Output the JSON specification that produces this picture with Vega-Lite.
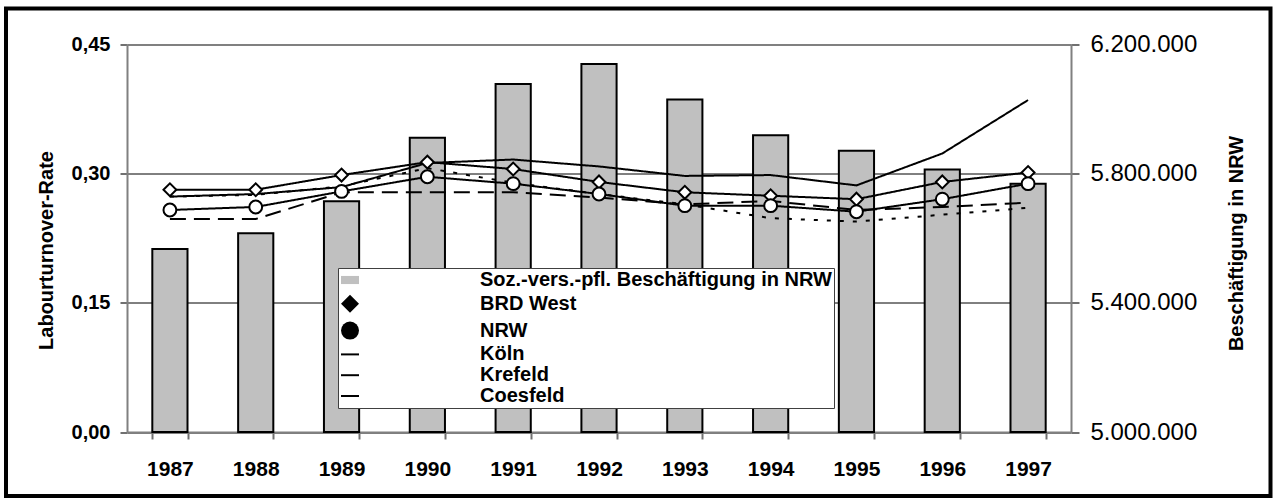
{
  "$schema": "https://vega.github.io/schema/vega-lite/v6.json",
  "width": 1264.5,
  "height": 487.5,
  "autosize": {"type": "none"},
  "padding": {"left": 6, "top": 8.5, "right": 5.5, "bottom": 3},
  "background": "white",
  "config": {
    "locale": {"number": {"decimal": ",", "thousands": ".", "grouping": [3], "currency": ["", " €"]}},
    "view": {"stroke": "black", "strokeWidth": 4, "fill": "white"},
    "font": "Liberation Sans"
  },
  "datasets": {
    "bars": [
      {"year": 1987, "employment": 5566000, "series": "Soz.-vers.-pfl. Beschäftigung in NRW"},
      {"year": 1988, "employment": 5615000, "series": "Soz.-vers.-pfl. Beschäftigung in NRW"},
      {"year": 1989, "employment": 5714000, "series": "Soz.-vers.-pfl. Beschäftigung in NRW"},
      {"year": 1990, "employment": 5910000, "series": "Soz.-vers.-pfl. Beschäftigung in NRW"},
      {"year": 1991, "employment": 6076000, "series": "Soz.-vers.-pfl. Beschäftigung in NRW"},
      {"year": 1992, "employment": 6138000, "series": "Soz.-vers.-pfl. Beschäftigung in NRW"},
      {"year": 1993, "employment": 6028000, "series": "Soz.-vers.-pfl. Beschäftigung in NRW"},
      {"year": 1994, "employment": 5918000, "series": "Soz.-vers.-pfl. Beschäftigung in NRW"},
      {"year": 1995, "employment": 5870000, "series": "Soz.-vers.-pfl. Beschäftigung in NRW"},
      {"year": 1996, "employment": 5812000, "series": "Soz.-vers.-pfl. Beschäftigung in NRW"},
      {"year": 1997, "employment": 5768000, "series": "Soz.-vers.-pfl. Beschäftigung in NRW"}
    ],
    "lines": [
      {"year": 1987, "series": "BRD West", "rate": 0.281},
      {"year": 1988, "series": "BRD West", "rate": 0.281},
      {"year": 1989, "series": "BRD West", "rate": 0.298},
      {"year": 1990, "series": "BRD West", "rate": 0.313},
      {"year": 1991, "series": "BRD West", "rate": 0.305},
      {"year": 1992, "series": "BRD West", "rate": 0.290},
      {"year": 1993, "series": "BRD West", "rate": 0.278},
      {"year": 1994, "series": "BRD West", "rate": 0.274},
      {"year": 1995, "series": "BRD West", "rate": 0.270},
      {"year": 1996, "series": "BRD West", "rate": 0.290},
      {"year": 1997, "series": "BRD West", "rate": 0.301},
      {"year": 1987, "series": "NRW", "rate": 0.2575},
      {"year": 1988, "series": "NRW", "rate": 0.261},
      {"year": 1989, "series": "NRW", "rate": 0.279},
      {"year": 1990, "series": "NRW", "rate": 0.296},
      {"year": 1991, "series": "NRW", "rate": 0.288},
      {"year": 1992, "series": "NRW", "rate": 0.276},
      {"year": 1993, "series": "NRW", "rate": 0.2625},
      {"year": 1994, "series": "NRW", "rate": 0.2625},
      {"year": 1995, "series": "NRW", "rate": 0.2555},
      {"year": 1996, "series": "NRW", "rate": 0.270},
      {"year": 1997, "series": "NRW", "rate": 0.288},
      {"year": 1987, "series": "Köln", "rate": 0.273},
      {"year": 1988, "series": "Köln", "rate": 0.276},
      {"year": 1989, "series": "Köln", "rate": 0.284},
      {"year": 1990, "series": "Köln", "rate": 0.312},
      {"year": 1991, "series": "Köln", "rate": 0.316},
      {"year": 1992, "series": "Köln", "rate": 0.308},
      {"year": 1993, "series": "Köln", "rate": 0.297},
      {"year": 1994, "series": "Köln", "rate": 0.298},
      {"year": 1995, "series": "Köln", "rate": 0.286},
      {"year": 1996, "series": "Köln", "rate": 0.323},
      {"year": 1997, "series": "Köln", "rate": 0.385},
      {"year": 1987, "series": "Krefeld", "rate": 0.247},
      {"year": 1988, "series": "Krefeld", "rate": 0.247},
      {"year": 1989, "series": "Krefeld", "rate": 0.278},
      {"year": 1990, "series": "Krefeld", "rate": 0.278},
      {"year": 1991, "series": "Krefeld", "rate": 0.278},
      {"year": 1992, "series": "Krefeld", "rate": 0.272},
      {"year": 1993, "series": "Krefeld", "rate": 0.264},
      {"year": 1994, "series": "Krefeld", "rate": 0.268},
      {"year": 1995, "series": "Krefeld", "rate": 0.2575},
      {"year": 1996, "series": "Krefeld", "rate": 0.261},
      {"year": 1997, "series": "Krefeld", "rate": 0.266},
      {"year": 1987, "series": "Coesfeld", "rate": 0.273},
      {"year": 1988, "series": "Coesfeld", "rate": 0.275},
      {"year": 1989, "series": "Coesfeld", "rate": 0.285},
      {"year": 1990, "series": "Coesfeld", "rate": 0.306},
      {"year": 1991, "series": "Coesfeld", "rate": 0.289},
      {"year": 1992, "series": "Coesfeld", "rate": 0.276},
      {"year": 1993, "series": "Coesfeld", "rate": 0.264},
      {"year": 1994, "series": "Coesfeld", "rate": 0.248},
      {"year": 1995, "series": "Coesfeld", "rate": 0.244},
      {"year": 1996, "series": "Coesfeld", "rate": 0.252},
      {"year": 1997, "series": "Coesfeld", "rate": 0.260}
    ]
  },
  "layer": [
    {
      "data": {"name": "bars"},
      "mark": {"type": "bar", "stroke": "black", "strokeWidth": 2},
      "encoding": {
        "x": {
          "field": "year", "type": "ordinal",
          "scale": {"paddingInner": 0.59, "paddingOuter": 0.295, "range": [121, 1065]},
          "axis": {
            "title": null, "labelAngle": 0, "labelFont": "Liberation Sans", "labelFontSize": 21,
            "labelFontWeight": "bold", "labelColor": "black", "labelPadding": 19,
            "tickSize": 7, "tickColor": "#707070", "tickWidth": 2, "tickBand": "extent",
            "domainColor": "#808080", "domainWidth": 2, "grid": false, "offset": -64
          }
        },
        "y": {
          "field": "employment", "type": "quantitative",
          "scale": {"domain": [5000000, 6200000], "zero": false, "nice": false, "range": [423.5, 35.5]},
          "axis": {
            "orient": "right", "offset": -199.5,
            "values": [5000000, 5400000, 5800000, 6200000], "format": ",.0f",
            "title": "Beschäftigung in NRW", "titleFont": "Liberation Sans", "titleFontSize": 20,
            "titleFontWeight": "bold", "titleColor": "black", "titleAngle": 270,
            "titleBaseline": "alphabetic", "titleX": 171, "titleY": 234.5,
            "labelFont": "Liberation Sans", "labelFontSize": 24, "labelFontWeight": "normal",
            "labelColor": "black", "labelPadding": 11, "tickSize": 8, "tickColor": "#707070",
            "tickWidth": 2, "domainColor": "#808080", "domainWidth": 2, "grid": false
          }
        },
        "y2": {"datum": 5000000},
        "fill": {
          "field": "series", "type": "nominal",
          "scale": {
            "domain": ["Soz.-vers.-pfl. Beschäftigung in NRW", "BRD West", "NRW", "Köln", "Krefeld", "Coesfeld"],
            "range": ["#c0c0c0", "black", "black", "black", "black", "black"]
          },
          "legend": {
            "title": null, "orient": "none", "legendX": 332, "legendY": 259.5,
            "padding": 2, "rowPadding": 0.8,
            "fillColor": "white", "strokeColor": "#404040",
            "symbolSize": 324, "symbolStrokeWidth": 2, "symbolStrokeColor": "black",
            "labelOffset": 120, "labelFont": "Liberation Sans", "labelFontSize": 20,
            "labelFontWeight": "bold", "labelColor": "black", "labelLimit": 600
          }
        }
      }
    },
    {
      "data": {"name": "lines"},
      "mark": {"type": "line", "color": "black", "strokeWidth": 2},
      "encoding": {
        "x": {"field": "year", "type": "ordinal"},
        "y": {
          "field": "rate", "type": "quantitative",
          "scale": {"domain": [0, 0.45], "nice": false, "zero": false, "range": [423.5, 35.5]},
          "axis": {
            "orient": "left", "offset": -121, "values": [0, 0.15, 0.3, 0.45], "format": ".2f",
            "title": "Labourturnover-Rate", "titleFont": "Liberation Sans", "titleFontSize": 20,
            "titleFontWeight": "bold", "titleColor": "black", "titleAngle": 270,
            "titleBaseline": "alphabetic", "titleX": -75, "titleY": 241.5,
            "labelFont": "Liberation Sans", "labelFontSize": 20, "labelFontWeight": "bold",
            "labelColor": "black", "labelPadding": 10, "tickSize": 7, "tickColor": "#707070",
            "tickWidth": 2, "domainColor": "#808080", "domainWidth": 2,
            "grid": true,
            "gridColor": {"condition": {"test": "datum.value >= 0.44", "value": "#808080"}, "value": "black"},
            "gridWidth": {"condition": {"test": "datum.value >= 0.44", "value": 2}, "value": 1}
          }
        },
        "detail": {"field": "series", "type": "nominal"},
        "strokeDash": {
          "field": "series", "type": "nominal",
          "scale": {"domain": ["BRD West", "NRW", "Köln", "Krefeld", "Coesfeld"], "range": [[1, 0], [1, 0], [1, 0], [16, 8], [4, 9]]},
          "legend": null
        }
      }
    },
    {
      "data": {"name": "lines"},
      "transform": [{"filter": "datum.series === 'BRD West' || datum.series === 'NRW'"}],
      "mark": {"type": "point", "filled": true, "fill": "white", "stroke": "black", "strokeWidth": 2, "size": 165, "opacity": 1},
      "encoding": {
        "x": {"field": "year", "type": "ordinal"},
        "y": {
          "field": "rate", "type": "quantitative",
          "scale": {"domain": [0, 0.45], "nice": false, "zero": false, "range": [423.5, 35.5]},
          "axis": null
        },
        "shape": {
          "field": "series", "type": "nominal",
          "scale": {
            "domain": ["Soz.-vers.-pfl. Beschäftigung in NRW", "BRD West", "NRW", "Köln", "Krefeld", "Coesfeld"],
            "range": ["M-1,-0.45H1V0.45H-1Z", "diamond", "circle", "M-1,-0.11H1V0.11H-1Z", "M-1,-0.11H1V0.11H-1Z", "M-1,-0.11H1V0.11H-1Z"]
          },
          "legend": {
            "title": null, "orient": "none", "legendX": 332, "legendY": 259.5,
            "padding": 2, "rowPadding": 0.8,
            "fillColor": "white", "strokeColor": "#404040",
            "symbolSize": 324, "symbolStrokeWidth": 2, "symbolStrokeColor": "black",
            "labelOffset": 120, "labelFont": "Liberation Sans", "labelFontSize": 20,
            "labelFontWeight": "bold", "labelColor": "black", "labelLimit": 600
          }
        }
      }
    }
  ],
  "resolve": {"scale": {"y": "independent"}}
}
